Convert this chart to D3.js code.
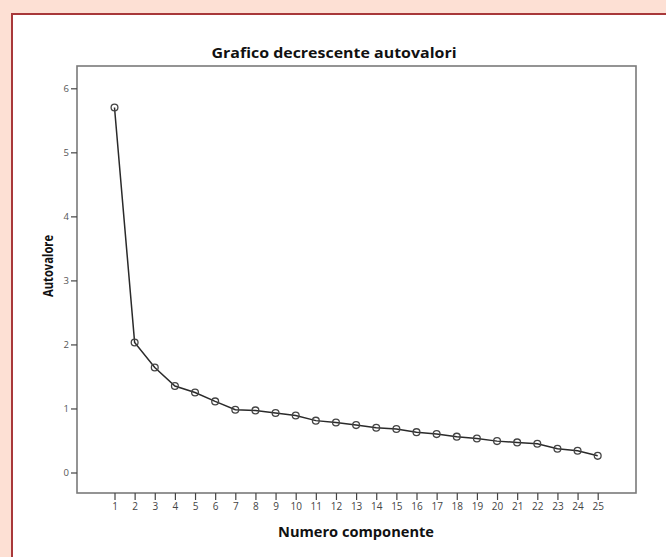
<!DOCTYPE html>
<html><head><meta charset="utf-8">
<script src="https://cdn.jsdelivr.net/npm/d3@7"></script>
<style>html,body{margin:0;padding:0;background:#fde0d4;}svg{display:block}</style>
</head><body>
<svg id="c" width="666" height="557"></svg>
<script>
const components = d3.range(1, 26);
const eigenvalues = [5.70, 2.03, 1.64, 1.35, 1.25, 1.11, 0.98, 0.97, 0.93, 0.89, 0.81, 0.78, 0.74, 0.70, 0.68, 0.63, 0.60, 0.56, 0.53, 0.49, 0.47, 0.45, 0.37, 0.34, 0.26];
const yTicks = [0, 1, 2, 3, 4, 5, 6];
const title = "Grafico decrescente autovalori";
const xTitle = "Numero componente";
const yTitle = "Autovalore";

const svg = d3.select("#c");
// card
svg.append("rect").attr("x", 12).attr("y", 14).attr("width", 700).attr("height", 600)
  .attr("fill", "#fff").attr("stroke", "#a8383a").attr("stroke-width", 2);

const plot = {l: 77, r: 636, t: 66, b: 493};
const x = d3.scaleLinear().domain([1, 25]).range([114.5, 597.7]);
const y = d3.scaleLinear().domain([0, 6]).range([472.5, 88.3]);

const font = "'Open Sans', Lato, sans-serif";

svg.append("rect").attr("x", plot.l).attr("y", plot.t)
  .attr("width", plot.r - plot.l).attr("height", plot.b - plot.t)
  .attr("fill", "#fff").attr("stroke", "#7a7a7a").attr("stroke-width", 1.6);

// y axis
const ya = svg.append("g").attr("transform", `translate(${plot.l},0)`)
  .call(d3.axisLeft(y).tickValues(yTicks).tickSize(6).tickPadding(2).tickFormat(d3.format("d")));
ya.select(".domain").remove();
ya.selectAll("line").attr("stroke", "#444").attr("stroke-width", 1.2);
ya.selectAll("text").attr("font-family", font).attr("font-size", 9.5).attr("fill", "#555");

// x axis
const xa = svg.append("g").attr("transform", `translate(0,${plot.b})`)
  .call(d3.axisBottom(x).tickValues(components).tickSize(7).tickPadding(3).tickFormat(d3.format("d")));
xa.select(".domain").remove();
xa.selectAll("line").attr("stroke", "#444").attr("stroke-width", 1.2);
xa.selectAll("text").attr("font-family", font).attr("font-size", 10).attr("fill", "#444");

// line
const data = components.map((c, i) => ({c, v: eigenvalues[i]}));
svg.append("path").datum(data)
  .attr("d", d3.line().x(d => x(d.c)).y(d => y(d.v)))
  .attr("fill", "none").attr("stroke", "#2a2a2a").attr("stroke-width", 1.5);
svg.selectAll("circle.pt").data(data).join("circle").attr("class", "pt")
  .attr("cx", d => x(d.c)).attr("cy", d => y(d.v)).attr("r", 3.4)
  .attr("fill", "none").attr("stroke", "#444").attr("stroke-width", 1.3);

// titles
svg.append("text").attr("x", 334).attr("y", 58).attr("text-anchor", "middle")
  .attr("font-family", font).attr("font-weight", "bold").attr("font-size", 14.5)
  .attr("fill", "#111").attr("textLength", 245).attr("lengthAdjust", "spacingAndGlyphs").text(title);
svg.append("text").attr("x", 356).attr("y", 537).attr("text-anchor", "middle")
  .attr("font-family", font).attr("font-weight", "bold").attr("font-size", 13.5)
  .attr("fill", "#111").attr("textLength", 156).attr("lengthAdjust", "spacingAndGlyphs").text(xTitle);
svg.append("text").attr("transform", "translate(52.5,266) rotate(-90)").attr("text-anchor", "middle")
  .attr("font-family", font).attr("font-weight", "bold").attr("font-size", 14)
  .attr("fill", "#111").attr("textLength", 62).attr("lengthAdjust", "spacingAndGlyphs").text(yTitle);
</script>
</body></html>
